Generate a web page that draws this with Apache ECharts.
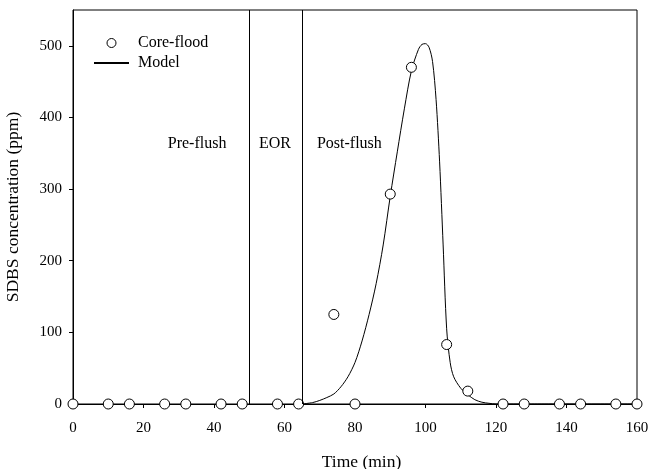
<!DOCTYPE html>
<html>
<head>
<meta charset="utf-8">
<script src="https://cdn.jsdelivr.net/npm/echarts@6/dist/echarts.min.js"></script>
<style>html,body{margin:0;padding:0;background:#fff;}#c{width:651px;height:469px;}</style>
</head>
<body>
<div id="c"></div>
<script>
// Core-flood measured data (time min, SDBS ppm)
var coreTime = [0, 10, 16, 26, 32, 42, 48, 58, 64, 74, 80, 90, 96, 106, 112, 122, 128, 138, 144, 154, 160];
var coreConc = [0, 0, 0, 0, 0, 0, 0, 0, 0, 125, 0, 293, 470, 83, 18, 0, 0, 0, 0, 0, 0];
// Model curve
var modelTime = [65, 68, 70, 72, 74, 76, 78, 80, 82, 84, 86, 88, 90, 92, 94, 96, 98, 99, 100, 101, 102, 103, 104, 105, 106, 107, 108, 110, 112, 114, 116, 118, 120, 130, 160];
var modelConc = [0, 2, 5, 9, 14, 24, 38, 58, 88, 125, 168, 222, 290, 352, 412, 465, 495, 502, 503, 498, 478, 425, 338, 222, 105, 58, 38, 22, 13, 6, 2.5, 1, 0, 0, 0];
// Phase boundaries and labels
var boundaries = [50, 65];
var phaseNames = ['Pre-flush', 'EOR', 'Post-flush'];
var phaseX = [35.2, 57.3, 78.4];
var phaseY = [363, 363, 363];
var yTicks = [0, 100, 200, 300, 400, 500];
var xTicks = [0, 20, 40, 60, 80, 100, 120, 140, 160];

var FONT = 'Liberation Serif';
var chart = echarts.init(document.getElementById('c'), null, {renderer: 'canvas'});
var coreData = coreTime.map(function (t, i) { return [t, coreConc[i]]; });
var modelData = modelTime.map(function (t, i) { return [t, modelConc[i]]; });
var phaseData = phaseNames.map(function (n, i) { return {name: n, value: [phaseX[i], phaseY[i]]}; });

chart.setOption({
  animation: false,
  backgroundColor: '#fff',
  textStyle: {fontFamily: FONT, color: '#000'},
  grid: {left: 73, right: 14, top: 10, bottom: 65, show: true, borderColor: '#000', borderWidth: 1,
         backgroundColor: 'transparent', containLabel: false, outerBoundsMode: 'none'},
  legend: {
    left: 88, top: 30, orient: 'vertical', itemGap: 4, itemWidth: 35, itemHeight: 9,
    textStyle: {fontFamily: FONT, fontSize: 16, color: '#000', padding: [0, 0, 0, 4]},
    data: [
      {name: 'Core-flood', icon: 'circle', itemStyle: {color: '#fff', borderColor: '#000', borderWidth: 1}},
      {name: 'Model', itemStyle: {color: 'transparent', borderColor: 'transparent', borderWidth: 0, opacity: 0}}
    ]
  },
  xAxis: {
    type: 'value', min: 0, max: 160, interval: 20,
    name: 'Time (min)', nameLocation: 'middle', nameGap: 49,
    nameTextStyle: {fontFamily: FONT, fontSize: 17.5, color: '#000', padding: [0, 0, 0, 13]},
    axisLine: {show: true, lineStyle: {color: '#000', width: 1}},
    axisTick: {show: true, length: 4, lineStyle: {color: '#000'}, customValues: xTicks},
    axisLabel: {fontFamily: FONT, fontSize: 15, color: '#000', margin: 17, customValues: xTicks},
    splitLine: {show: false}
  },
  yAxis: {
    type: 'value', min: 0, max: 550, interval: 100,
    name: 'SDBS concentration (ppm)', nameLocation: 'middle', nameGap: 51,
    nameTextStyle: {fontFamily: FONT, fontSize: 17.5, color: '#000'},
    axisLine: {show: true, lineStyle: {color: '#000', width: 1}},
    axisTick: {show: true, length: 4, lineStyle: {color: '#000'}, customValues: yTicks},
    axisLabel: {fontFamily: FONT, fontSize: 15, color: '#000', margin: 11, customValues: yTicks},
    splitLine: {show: false}
  },
  series: [
    {
      name: 'Model', type: 'line', data: modelData, symbol: 'none', smooth: 0.3,
      lineStyle: {color: '#000', width: 1}, itemStyle: {color: '#000'}, z: 3,
      markLine: {
        silent: true, symbol: 'none', label: {show: false},
        lineStyle: {color: '#000', width: 1, type: 'solid'},
        data: boundaries.map(function (b) { return {xAxis: b}; })
      }
    },
    {
      name: 'Core-flood', type: 'scatter', data: coreData, symbol: 'circle', symbolSize: 10,
      itemStyle: {color: '#fff', borderColor: '#000', borderWidth: 1, opacity: 1}, z: 4
    },
    {
      name: 'phases', type: 'scatter', data: phaseData, symbolSize: 0, silent: true,
      itemStyle: {opacity: 1},
      label: {show: true, position: 'inside', formatter: '{b}', fontFamily: FONT, fontSize: 16, color: '#000', opacity: 1}
    }
  ]
});
</script>
</body>
</html>
